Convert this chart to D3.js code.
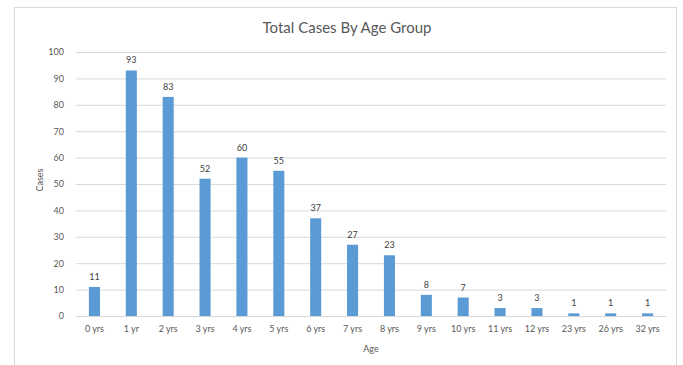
<!DOCTYPE html>
<html><head><meta charset="utf-8">
<script src="https://cdn.jsdelivr.net/npm/d3@7"></script>
<style>body{margin:0;background:#fff}svg{display:block}text{font-family:Lato,"Open Sans",sans-serif}</style>
</head><body><svg id="c" width="683" height="365"></svg>
<script>
const categories = ["0 yrs","1 yr","2 yrs","3 yrs","4 yrs","5 yrs","6 yrs","7 yrs","8 yrs","9 yrs","10 yrs","11 yrs","12 yrs","23 yrs","26 yrs","32 yrs"];
const cases = [11,93,83,52,60,55,37,27,23,8,7,3,3,1,1,1];
const yTicks = [0,10,20,30,40,50,60,70,80,90,100];
const title = "Total Cases By Age Group";
const xTitle = "Age";
const yTitle = "Cases";

const svg = d3.select("#c");
const m = {l:76, r:666, t:52, b:316};
const x = d3.scaleBand().domain(categories).range([m.l, m.r]).paddingInner(0.7).paddingOuter(0.35);
const y = d3.scaleLinear().domain([0,100]).range([m.b, m.t]);

// chart border
svg.append("rect").attr("x",14.5).attr("y",7.5).attr("width",662).attr("height",370)
  .attr("fill","none").attr("stroke","#d9d9d9");

svg.append("text").attr("x",347).attr("y",33).attr("text-anchor","middle")
  .attr("font-size",15).attr("fill","#595959").text(title);

const ya = svg.append("g").attr("transform",`translate(${m.l},0)`)
  .call(d3.axisLeft(y).tickValues(yTicks).tickSize(-(m.r-m.l)).tickPadding(12));
ya.select(".domain").remove();
ya.selectAll(".tick line").attr("stroke","#d9d9d9");
ya.selectAll(".tick text").attr("font-size",9).attr("fill","#595959").attr("font-family","Lato,'Open Sans',sans-serif");

const xa = svg.append("g").attr("transform",`translate(0,${m.b})`)
  .call(d3.axisBottom(x).tickSize(0).tickPadding(10));
xa.select(".domain").attr("stroke","#d9d9d9");
xa.selectAll(".tick text").attr("font-size",9).attr("fill","#595959").attr("font-family","Lato,'Open Sans',sans-serif");

svg.append("g").selectAll("rect").data(cases).join("rect")
  .attr("x",(d,i)=>x(categories[i])).attr("width",x.bandwidth())
  .attr("y",d=>y(d)).attr("height",d=>y(0)-y(d)).attr("fill","#5B9BD5");

svg.append("g").selectAll("text").data(cases).join("text")
  .attr("x",(d,i)=>x(categories[i])+x.bandwidth()/2).attr("y",d=>y(d)-7)
  .attr("text-anchor","middle").attr("font-size",9).attr("fill","#404040").text(d=>d);

svg.append("text").attr("x",371).attr("y",352).attr("text-anchor","middle")
  .attr("font-size",9).attr("fill","#595959").text(xTitle);
svg.append("text").attr("transform","translate(43,180) rotate(-90)").attr("text-anchor","middle")
  .attr("font-size",9).attr("fill","#595959").text(yTitle);
</script></body></html>
